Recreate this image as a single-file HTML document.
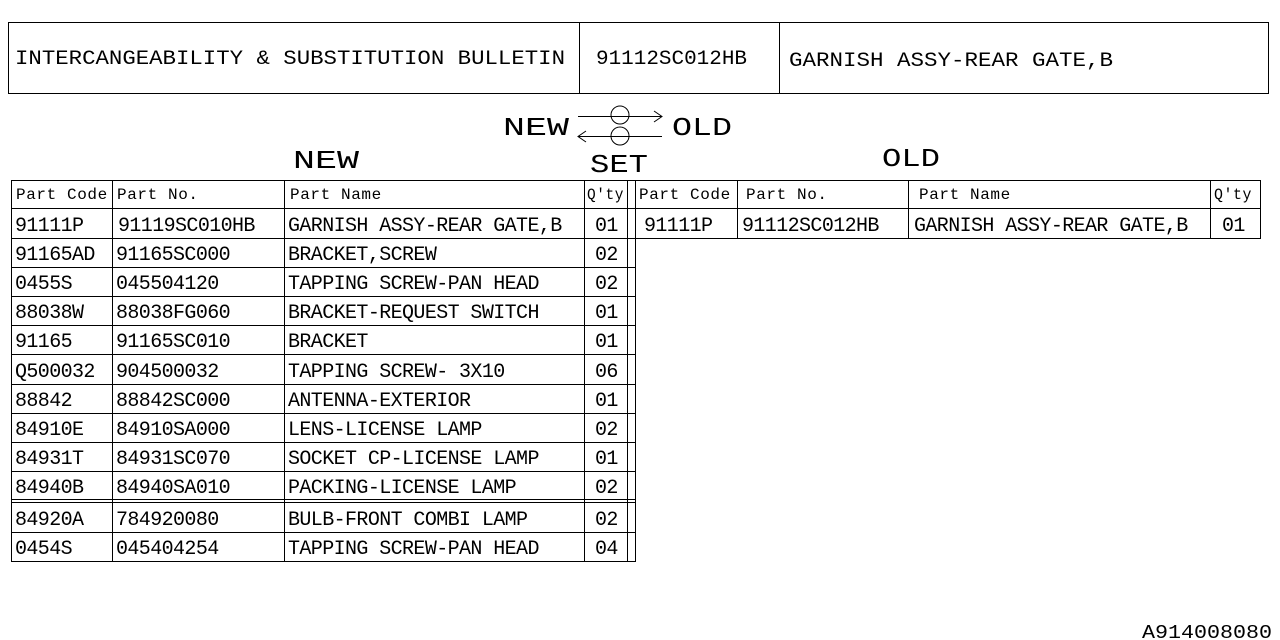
<!DOCTYPE html>
<html><head><meta charset="utf-8"><style>
body{margin:0;background:#fff;width:1280px;height:640px;overflow:hidden}
svg{display:block}
text{font-family:"Liberation Mono",monospace;fill:#000}
.b{font-size:20px;letter-spacing:-0.6px}.h{font-size:16px;letter-spacing:0.6px}
</style></head><body>
<svg width="1280" height="640" xmlns="http://www.w3.org/2000/svg">
<g stroke="#000" stroke-width="1" fill="none">
<rect x="8.5" y="22.5" width="1260" height="71"/>
<line x1="579.5" y1="22" x2="579.5" y2="93"/>
<line x1="779.5" y1="22" x2="779.5" y2="93"/>
<line x1="578" y1="116.5" x2="662" y2="116.5"/><polyline points="654,111 662,116.5 654,122"/>
<line x1="578" y1="136.5" x2="662" y2="136.5"/><polyline points="586,131 578,136.5 586,142"/>
<circle cx="620" cy="115" r="9"/><circle cx="620" cy="136" r="9"/>
<line x1="11" y1="180.5" x2="636" y2="180.5"/>
<line x1="11" y1="208.5" x2="636" y2="208.5"/>
<line x1="11" y1="238.5" x2="636" y2="238.5"/>
<line x1="11" y1="267.5" x2="636" y2="267.5"/>
<line x1="11" y1="296.5" x2="636" y2="296.5"/>
<line x1="11" y1="325.5" x2="636" y2="325.5"/>
<line x1="11" y1="354.5" x2="636" y2="354.5"/>
<line x1="11" y1="384.5" x2="636" y2="384.5"/>
<line x1="11" y1="413.5" x2="636" y2="413.5"/>
<line x1="11" y1="442.5" x2="636" y2="442.5"/>
<line x1="11" y1="471.5" x2="636" y2="471.5"/>
<line x1="11" y1="499.5" x2="636" y2="499.5"/>
<line x1="11" y1="502.5" x2="636" y2="502.5"/>
<line x1="11" y1="532.5" x2="636" y2="532.5"/>
<line x1="11" y1="561.5" x2="636" y2="561.5"/>
<line x1="11.5" y1="180" x2="11.5" y2="562"/>
<line x1="112.5" y1="180" x2="112.5" y2="562"/>
<line x1="284.5" y1="180" x2="284.5" y2="562"/>
<line x1="584.5" y1="180" x2="584.5" y2="562"/>
<line x1="627.5" y1="180" x2="627.5" y2="562"/>
<line x1="635.5" y1="180" x2="635.5" y2="562"/>
<line x1="636" y1="180.5" x2="1261" y2="180.5"/>
<line x1="636" y1="208.5" x2="1261" y2="208.5"/>
<line x1="636" y1="238.5" x2="1261" y2="238.5"/>
<line x1="737.5" y1="180" x2="737.5" y2="239"/>
<line x1="908.5" y1="180" x2="908.5" y2="239"/>
<line x1="1210.5" y1="180" x2="1210.5" y2="239"/>
<line x1="1260.5" y1="180" x2="1260.5" y2="239"/>
</g>
<text x="15" y="64" style="font-size:20px" textLength="550" lengthAdjust="spacingAndGlyphs">INTERCANGEABILITY &amp; SUBSTITUTION BULLETIN</text>
<text x="596" y="64" style="font-size:20px" textLength="151" lengthAdjust="spacingAndGlyphs">91112SC012HB</text>
<text x="789" y="66" style="font-size:20px" textLength="324" lengthAdjust="spacingAndGlyphs">GARNISH ASSY-REAR GATE,B</text>
<text x="503" y="135" style="font-size:26px" textLength="66" lengthAdjust="spacingAndGlyphs">NEW</text>
<text x="672" y="135" style="font-size:26px" textLength="60" lengthAdjust="spacingAndGlyphs">OLD</text>
<text x="590" y="172" style="font-size:26px" textLength="58" lengthAdjust="spacingAndGlyphs">SET</text>
<text x="293" y="168" style="font-size:26px" textLength="66" lengthAdjust="spacingAndGlyphs">NEW</text>
<text x="882" y="166" style="font-size:26px" textLength="58" lengthAdjust="spacingAndGlyphs">OLD</text>
<text x="16" y="199" class="h">Part Code</text><text x="117" y="199" class="h">Part No.</text><text x="290" y="199" class="h">Part Name</text><text x="587" y="199" class="h" textLength="37" lengthAdjust="spacingAndGlyphs">Q'ty</text>
<text x="639" y="199" class="h">Part Code</text><text x="746" y="199" class="h">Part No.</text><text x="919" y="199" class="h">Part Name</text><text x="1214" y="199" class="h" textLength="38" lengthAdjust="spacingAndGlyphs">Q'ty</text>
<text x="15" y="231" class="b">91111P</text><text x="118" y="231" class="b">91119SC010HB</text><text x="288" y="231" class="b">GARNISH ASSY-REAR GATE,B</text><text x="595" y="231" class="b">01</text>
<text x="644" y="231" class="b">91111P</text><text x="742" y="231" class="b">91112SC012HB</text><text x="914" y="231" class="b">GARNISH ASSY-REAR GATE,B</text><text x="1222" y="231" class="b">01</text>
<text x="15" y="260" class="b">91165AD</text><text x="116" y="260" class="b">91165SC000</text><text x="288" y="260" class="b">BRACKET,SCREW</text><text x="595" y="260" class="b">02</text>
<text x="15" y="289" class="b">0455S</text><text x="116" y="289" class="b">045504120</text><text x="288" y="289" class="b">TAPPING SCREW-PAN HEAD</text><text x="595" y="289" class="b">02</text>
<text x="15" y="318" class="b">88038W</text><text x="116" y="318" class="b">88038FG060</text><text x="288" y="318" class="b">BRACKET-REQUEST SWITCH</text><text x="595" y="318" class="b">01</text>
<text x="15" y="347" class="b">91165</text><text x="116" y="347" class="b">91165SC010</text><text x="288" y="347" class="b">BRACKET</text><text x="595" y="347" class="b">01</text>
<text x="15" y="377" class="b">Q500032</text><text x="116" y="377" class="b">904500032</text><text x="288" y="377" class="b">TAPPING SCREW- 3X10</text><text x="595" y="377" class="b">06</text>
<text x="15" y="406" class="b">88842</text><text x="116" y="406" class="b">88842SC000</text><text x="288" y="406" class="b">ANTENNA-EXTERIOR</text><text x="595" y="406" class="b">01</text>
<text x="15" y="435" class="b">84910E</text><text x="116" y="435" class="b">84910SA000</text><text x="288" y="435" class="b">LENS-LICENSE LAMP</text><text x="595" y="435" class="b">02</text>
<text x="15" y="464" class="b">84931T</text><text x="116" y="464" class="b">84931SC070</text><text x="288" y="464" class="b">SOCKET CP-LICENSE LAMP</text><text x="595" y="464" class="b">01</text>
<text x="15" y="493" class="b">84940B</text><text x="116" y="493" class="b">84940SA010</text><text x="288" y="493" class="b">PACKING-LICENSE LAMP</text><text x="595" y="493" class="b">02</text>
<text x="15" y="525" class="b">84920A</text><text x="116" y="525" class="b">784920080</text><text x="288" y="525" class="b">BULB-FRONT COMBI LAMP</text><text x="595" y="525" class="b">02</text>
<text x="15" y="554" class="b">0454S</text><text x="116" y="554" class="b">045404254</text><text x="288" y="554" class="b">TAPPING SCREW-PAN HEAD</text><text x="595" y="554" class="b">04</text>
<text x="1142" y="638" style="font-size:19px" textLength="130" lengthAdjust="spacingAndGlyphs">A914008080</text>
</svg>
</body></html>
